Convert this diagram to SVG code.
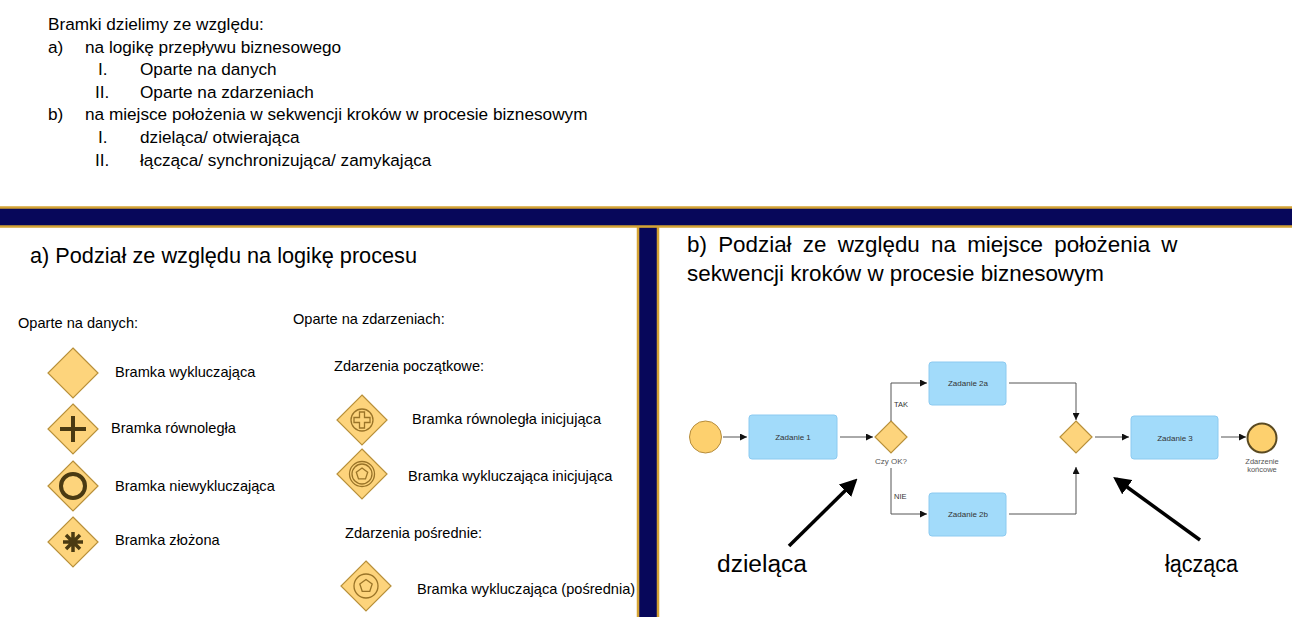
<svg xmlns="http://www.w3.org/2000/svg" width="1292" height="617" viewBox="0 0 1292 617">
<style>
  text { font-family: "Liberation Sans", Arial, sans-serif; fill: #000; }
  .top { font-size: 17.2px; }
  .h { font-size: 21.7px; }
  .hb { font-size: 22.4px; }
  .lbl { font-size: 14.6px; }
  .big { font-size: 23px; }
  .gw { fill: #fdd47c; stroke: #b8903a; stroke-width: 1.2; }
  .ico { fill: none; stroke: #4a3a12; }
  .eico { fill: none; stroke: #9a7428; stroke-width: 1.3; }
  .task { fill: #a2dbfa; stroke: #8ccaf0; stroke-width: 1; }
  .tt { font-size: 8px; fill: #333; text-anchor: middle; }
  .st { font-size: 8px; fill: #555; text-anchor: middle; }
  .fl { fill: none; stroke: #555; stroke-width: 1; }
  .bar { fill: #07075a; stroke: #d4a334; stroke-width: 2.5; }
  .blk { stroke: #000; stroke-width: 3.5; fill: none; }
</style>
<defs>
  <path id="dia" d="M0,-25 L25,0 L0,25 L-25,0 Z"/>
  <path id="dia2" d="M0,-16 L16,0 L0,16 L-16,0 Z"/>
  <marker id="ah" viewBox="0 0 10 10" refX="10" refY="5" markerWidth="7" markerHeight="7" markerUnits="userSpaceOnUse" orient="auto">
    <path d="M0,0 L10,5 L0,10 Z" fill="#111"/>
  </marker>
  <marker id="bh" viewBox="0 0 10 10" refX="8" refY="5" markerWidth="5" markerHeight="5" orient="auto">
    <path d="M0,0 L10,5 L0,10 Z" fill="#000"/>
  </marker>
</defs>
<rect width="1292" height="617" fill="#fff"/>

<!-- top text -->
<g id="intro">
  <text class="top" x="48" y="30">Bramki dzielimy ze względu:</text>
  <text class="top" x="48" y="53">a)</text>
  <text class="top" x="85" y="53">na logikę przepływu biznesowego</text>
  <text class="top" x="98" y="75">I.</text>
  <text class="top" x="140" y="75">Oparte na danych</text>
  <text class="top" x="95" y="98">II.</text>
  <text class="top" x="140" y="98">Oparte na zdarzeniach</text>
  <text class="top" x="48" y="120">b)</text>
  <text class="top" x="85" y="120">na miejsce położenia w sekwencji kroków w procesie biznesowym</text>
  <text class="top" x="98" y="143">I.</text>
  <text class="top" x="140" y="143">dzieląca/ otwierająca</text>
  <text class="top" x="95" y="166">II.</text>
  <text class="top" x="140" y="166">łącząca/ synchronizująca/ zamykająca</text>
</g>

<!-- bars -->
<g id="bars">
  <rect class="bar" x="638" y="226" width="20" height="400"/>
  <rect class="bar" x="-3" y="207.5" width="1298" height="19"/>
</g>

<!-- left panel -->
<g id="panel-a">
  <text class="h" x="30" y="263">a) Podział ze względu na logikę procesu</text>
  <text class="lbl" x="18" y="328">Oparte na danych:</text>
  <text class="lbl" x="293" y="324">Oparte na zdarzeniach:</text>
  <text class="lbl" x="334" y="371">Zdarzenia początkowe:</text>
  <text class="lbl" x="345" y="538">Zdarzenia pośrednie:</text>
</g>

<g id="gw-exclusive">
  <use href="#dia" class="gw" x="73" y="373"/>
  <text class="lbl" x="115" y="377">Bramka wykluczająca</text>
</g>
<g id="gw-parallel">
  <use href="#dia" class="gw" x="73" y="429"/>
  <path class="ico" d="M73,416 V442 M60,429 H86" stroke-width="4"/>
  <text class="lbl" x="111" y="433">Bramka równoległa</text>
</g>
<g id="gw-inclusive">
  <use href="#dia" class="gw" x="73" y="486"/>
  <circle class="ico" cx="73" cy="486" r="12" stroke-width="4"/>
  <text class="lbl" x="115" y="491">Bramka niewykluczająca</text>
</g>
<g id="gw-complex">
  <use href="#dia" class="gw" x="73" y="542"/>
  <path class="ico" d="M73,532 V552 M63,542 H83 M66,535 L80,549 M80,535 L66,549" stroke-width="3.5"/>
  <text class="lbl" x="115" y="545">Bramka złożona</text>
</g>

<g id="gw-parallel-event">
  <use href="#dia" class="gw" x="362" y="420"/>
  <circle class="eico" cx="362" cy="420" r="11"/>
  <polygon class="eico" points="359.5,412 364.5,412 364.5,417.5 370,417.5 370,422.5 364.5,422.5 364.5,428 359.5,428 359.5,422.5 354,422.5 354,417.5 359.5,417.5"/>
  <text class="lbl" x="412" y="424">Bramka równoległa inicjująca</text>
</g>
<g id="gw-exclusive-event-start">
  <use href="#dia" class="gw" x="362" y="474"/>
  <circle class="eico" cx="362" cy="474" r="12.5"/>
  <circle class="eico" cx="362" cy="474" r="10"/>
  <polygon class="eico" points="362,468 367.7,472.2 365.5,478.9 358.5,478.9 356.3,472.2"/>
  <text class="lbl" x="408" y="481">Bramka wykluczająca inicjująca</text>
</g>
<g id="gw-exclusive-event">
  <use href="#dia" class="gw" x="366" y="586"/>
  <circle class="eico" cx="366" cy="586" r="12"/>
  <polygon class="eico" points="366,579.5 372.2,584 369.8,591.3 362.2,591.3 359.8,584"/>
  <text class="lbl" x="417" y="594">Bramka wykluczająca (pośrednia)</text>
</g>

<!-- right panel -->
<g id="panel-b">
  <text class="hb" x="687" y="252" style="word-spacing:5px">b) Podział ze względu na miejsce położenia w</text>
  <text class="hb" x="687" y="281">sekwencji kroków w procesie biznesowym</text>
</g>

<g id="start">
  <circle cx="705.5" cy="437" r="16" fill="#fdd06e" stroke="#b58c3c" stroke-width="1"/>
</g>
<g id="task1">
  <rect class="task" x="749" y="415" width="88" height="44" rx="3"/>
  <text class="tt" x="793" y="440">Zadanie 1</text>
</g>
<g id="split">
  <use href="#dia2" class="gw" x="891" y="437"/>
  <text class="st" x="891" y="464">Czy OK?</text>
</g>
<g id="task2a">
  <rect class="task" x="929" y="362" width="77" height="43" rx="3"/>
  <text class="tt" x="968" y="386">Zadanie 2a</text>
</g>
<g id="task2b">
  <rect class="task" x="929" y="493" width="77" height="43" rx="3"/>
  <text class="tt" x="968" y="517">Zadanie 2b</text>
</g>
<g id="join">
  <use href="#dia2" class="gw" x="1076" y="437"/>
</g>
<g id="task3">
  <rect class="task" x="1131" y="416" width="87" height="43" rx="3"/>
  <text class="tt" x="1175" y="441">Zadanie 3</text>
</g>
<g id="end">
  <circle cx="1262" cy="438" r="14.5" fill="#fdd06e" stroke="#5a4a22" stroke-width="2"/>
  <text class="st" x="1262" y="464" style="font-size:7.5px">Zdarzenie</text>
  <text class="st" x="1262" y="472" style="font-size:7.5px">końcowe</text>
</g>

<g id="connectors">
  <path class="fl" d="M723,437 H747" marker-end="url(#ah)"/>
  <path class="fl" d="M840,437 H873" marker-end="url(#ah)"/>
  <path class="fl" d="M891,421 V383 H927" marker-end="url(#ah)"/>
  <path class="fl" d="M891,468 V514 H927" marker-end="url(#ah)"/>
  <path class="fl" d="M1009,383 H1076 V420" marker-end="url(#ah)"/>
  <path class="fl" d="M1009,514 H1076 V467" marker-end="url(#ah)"/>
  <path class="fl" d="M1095,437 H1129" marker-end="url(#ah)"/>
  <path class="fl" d="M1221,437 H1246" marker-end="url(#ah)"/>
  <text x="894" y="407" style="font-size:7.5px;fill:#333">TAK</text>
  <text x="894" y="499" style="font-size:7.5px;fill:#333">NIE</text>
  <path class="blk" d="M789,546 L855,481" marker-end="url(#bh)"/>
  <path class="blk" d="M1200,540 L1116,479" marker-end="url(#bh)"/>
</g>

<g id="callouts">
  <text class="big" x="717" y="572" textLength="90" lengthAdjust="spacingAndGlyphs">dzieląca</text>
  <text class="big" x="1165" y="572" textLength="73" lengthAdjust="spacingAndGlyphs">łącząca</text>
</g>
</svg>
